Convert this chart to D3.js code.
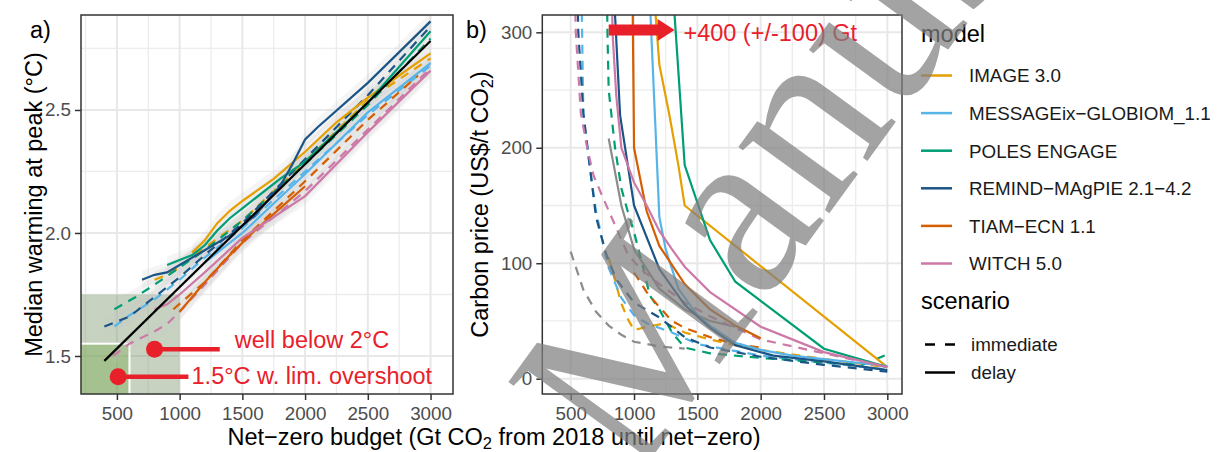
<!DOCTYPE html>
<html><head><meta charset="utf-8">
<script src="https://cdn.jsdelivr.net/npm/d3@7"></script>
<style>body{margin:0;background:#fff}svg{display:block}text{font-family:"Liberation Sans",Arial,sans-serif}</style>
</head><body>
<svg id="c" width="1218" height="452"></svg>
<script>
// ---------- data ----------
const models = ["IMAGE 3.0","MESSAGEix\u2212GLOBIOM_1.1","POLES ENGAGE","REMIND\u2212MAgPIE 2.1\u22124.2","TIAM\u2212ECN 1.1","WITCH 5.0"];
const scenarios = ["immediate","delay"];
const budgetTicks = [500,1000,1500,2000,2500,3000];
const warmTicks = [1.5,2.0,2.5];
const priceTicks = [0,100,200,300];

// panel a: median peak warming vs net-zero budget [budget, warming]
const warmImageDelay = [[1100,1.92],[1200,1.97],[1300,2.04],[1400,2.09],[1500,2.13],[1750,2.22],[2000,2.33],[2250,2.45],[2500,2.55],[2750,2.64],[3000,2.73]];
const warmImageImm = [[800,1.81],[900,1.83],[1000,1.86],[1200,1.94],[1500,2.05],[2000,2.29],[2500,2.54],[3000,2.71]];
const warmMessageDelay = [[1200,1.88],[1500,2.0],[2000,2.24],[2500,2.49],[3000,2.69]];
const warmMessageImm = [[480,1.62],[600,1.665],[800,1.73],[1000,1.81],[1200,1.90],[1500,2.02],[2000,2.25],[2500,2.48],[3000,2.68]];
const warmPolesDelay = [[900,1.87],[1000,1.89],[1100,1.91],[1200,1.95],[1300,2.01],[1400,2.06],[1500,2.10],[1800,2.22],[2000,2.29],[2500,2.53],[3000,2.82]];
const warmPolesImm = [[480,1.69],[650,1.74],[800,1.79],[1000,1.86],[1200,1.93],[1500,2.05],[2000,2.28],[2500,2.52],[3000,2.79]];
const warmRemindDelay = [[700,1.81],[800,1.83],[900,1.84],[1000,1.87],[1200,1.93],[1400,1.99],[1600,2.07],[1800,2.19],[1900,2.28],[2000,2.38],[2100,2.43],[2500,2.61],[3000,2.86]];
const warmRemindImm = [[400,1.62],[600,1.66],[800,1.74],[1000,1.82],[1200,1.91],[1500,2.04],[2000,2.30],[2500,2.56],[3000,2.84]];
const warmTiamDelay = [[1000,1.68],[1200,1.80],[1400,1.91],[1600,2.01],[1800,2.10],[2000,2.19]];
const warmTiamImm = [[950,1.69],[1200,1.80],[1500,1.97],[2000,2.21],[2500,2.46],[2900,2.64]];
const warmWitchDelay = [[800,1.69],[900,1.71],[1000,1.75],[1200,1.84],[1500,1.98],[2000,2.15],[2500,2.41],[3000,2.66]];
const warmWitchImm = [[470,1.50],[600,1.55],[800,1.60],[900,1.63],[1000,1.68],[1200,1.79],[1500,1.96],[2000,2.17],[2500,2.42],[3000,2.67]];
const warmFit = [[400,1.48],[3000,2.78]];

// target ranges in panel a: [budget max, warming max]
const targetWB2 = [1000,1.75];
const target15 = [600,1.55];
const markWB2 = [800,1.527,1320,1440];   // dot budget, warming, line end, label start
const mark15 = [510,1.416,1070,1095];
const labelWB2 = "well below 2\u00b0C";
const label15 = "1.5\u00b0C w. lim. overshoot";

// panel b: carbon price vs net-zero budget [budget, price]
const priceImageDelay = [[1150,360],[1160,330],[1200,272],[1280,228],[1350,185],[1400,150],[3000,10]];
const priceImageImm = [[800,105],[850,85],[900,65],[950,52],[1000,42],[1100,45],[1250,48],[1400,40],[1600,34],[1800,29],[2000,25],[2500,17],[3000,10]];
const priceMessageDelay = [[1120,400],[1130,315],[1200,140],[1250,112],[1350,78],[1500,55],[1600,46],[1800,31],[2000,25],[2250,20],[2500,17],[3000,11]];
const priceMessageImm = [[575,400],[590,300],[600,228],[650,183],[700,145],[750,120],[800,96],[900,70],[1000,55],[1100,48],[1300,40],[1500,30],[2000,20],[2500,14],[3000,8]];
const pricePolesDelay = [[1300,420],[1320,315],[1400,185],[1600,120],[1800,84],[2500,26],[3000,10]];
const pricePolesImm = [[780,400],[790,300],[800,250],[850,200],[900,165],[950,145],[1000,127],[1075,95],[1125,72],[1200,60],[1300,40],[1400,27],[1600,22],[2000,18],[2500,14],[2800,12],[3000,21]];
const priceRemindDelay = [[840,400],[850,315],[890,228],[1000,150],[1200,95],[1400,64],[1600,44],[1800,29],[2100,20],[2500,15],[3000,7.5]];
const priceRemindImm = [[540,400],[560,300],[600,230],[650,185],[700,140],[780,108],[860,86],[1000,66],[1200,53],[1400,36],[1600,27],[2000,19],[2500,12],[3000,6]];
const priceTiamDelay = [[975,400],[990,315],[1000,200],[1100,145],[1200,115],[1400,82],[1600,60],[1800,46],[2000,35]];
const priceTiamImm = [[1000,92],[1100,75],[1200,62],[1300,50],[1400,44],[1600,36],[1800,30],[2000,27]];
const priceWitchDelay = [[820,400],[830,300],[860,245],[900,200],[1000,170],[1100,150],[1200,128],[1300,112],[1400,97],[1600,75],[2000,45],[2500,23],[3000,10]];
const priceWitchImm = [[520,400],[540,300],[580,230],[630,200],[680,176],[750,158],[850,133],[950,108],[1050,95],[1200,82],[1400,66],[1600,54],[2000,34],[2500,22],[3000,10]];
const priceGrayDelay = [[800,208],[900,150],[1000,112],[1200,78],[1400,60],[1600,50],[1800,45]];
const priceGrayImm = [[500,110],[600,77],[700,58],[800,46],[900,38],[1000,32],[1200,28],[1400,26]];
const shiftArrow = [800,1320,302];  // from budget, to budget, at price
const shiftLabel = "+400 (+/-100) Gt";
const shiftLabelAt = [1390,300];
const watermark = "Manuscript";

// ---------- styles ----------
const colors = ["#E69F00","#56B4E9","#009E73","#1B5586","#D55E00","#CC79A7"];
const red = "#E8202A";
const dashPat = "9,7";

const warmSeries = [
  [warmImageImm,0,"immediate"],[warmMessageImm,1,"immediate"],[warmPolesImm,2,"immediate"],[warmRemindImm,3,"immediate"],[warmTiamImm,4,"immediate"],[warmWitchImm,5,"immediate"],
  [warmImageDelay,0,"delay"],[warmMessageDelay,1,"delay"],[warmPolesDelay,2,"delay"],[warmRemindDelay,3,"delay"],[warmTiamDelay,4,"delay"],[warmWitchDelay,5,"delay"]];
const priceSeries = [
  [priceGrayImm,-1,"immediate"],[priceGrayDelay,-1,"delay"],
  [priceImageImm,0,"immediate"],[priceMessageImm,1,"immediate"],[pricePolesImm,2,"immediate"],[priceRemindImm,3,"immediate"],[priceTiamImm,4,"immediate"],[priceWitchImm,5,"immediate"],
  [priceImageDelay,0,"delay"],[priceMessageDelay,1,"delay"],[pricePolesDelay,2,"delay"],[priceRemindDelay,3,"delay"],[priceTiamDelay,4,"delay"],[priceWitchDelay,5,"delay"]];

const svg = d3.select("#c");
const A = {l:81,r:453,t:15,b:394};
const B = {l:542.3,r:902,t:15,b:394};

const xA = d3.scaleLinear().domain([213.8,3179]).range([A.l,A.r]);
const yA = d3.scaleLinear().domain([1.3455,2.886]).range([A.b,A.t]);
const xB = d3.scaleLinear().domain([275.7,3116]).range([B.l,B.r]);
const yB = d3.scaleLinear().domain([-13.25,315]).range([B.b,B.t]);

const defs = svg.append("defs");
defs.append("clipPath").attr("id","clipA").append("rect").attr("x",A.l).attr("y",A.t).attr("width",A.r-A.l).attr("height",A.b-A.t);
defs.append("clipPath").attr("id","clipB").append("rect").attr("x",B.l).attr("y",B.t).attr("width",B.r-B.l).attr("height",B.b-B.t);
defs.append("clipPath").attr("id","clipAll").append("rect").attr("x",0).attr("y",0).attr("width",1218).attr("height",452);

function grid(P, x, y, xMaj, yMaj) {
  const g = svg.append("g");
  const xMin = xMaj.slice(0,-1).map((v,i)=>(v+xMaj[i+1])/2).concat([xMaj[0]-(xMaj[1]-xMaj[0])/2, xMaj[xMaj.length-1]+(xMaj[1]-xMaj[0])/2]).filter(v=>x(v)>P.l&&x(v)<P.r);
  const yMin = yMaj.slice(0,-1).map((v,i)=>(v+yMaj[i+1])/2).concat([yMaj[0]-(yMaj[1]-yMaj[0])/2, yMaj[yMaj.length-1]+(yMaj[1]-yMaj[0])/2]).filter(v=>y(v)>P.t&&y(v)<P.b);
  g.selectAll(".vmin").data(xMin).join("line").attr("x1",d=>x(d)).attr("x2",d=>x(d)).attr("y1",P.t).attr("y2",P.b).attr("stroke","#ececec").attr("stroke-width",1.3);
  g.selectAll(".hmin").data(yMin).join("line").attr("y1",d=>y(d)).attr("y2",d=>y(d)).attr("x1",P.l).attr("x2",P.r).attr("stroke","#ececec").attr("stroke-width",1.3);
  g.selectAll(".vmaj").data(xMaj).join("line").attr("x1",d=>x(d)).attr("x2",d=>x(d)).attr("y1",P.t).attr("y2",P.b).attr("stroke","#e8e8e8").attr("stroke-width",2);
  g.selectAll(".hmaj").data(yMaj).join("line").attr("y1",d=>y(d)).attr("y2",d=>y(d)).attr("x1",P.l).attr("x2",P.r).attr("stroke","#e8e8e8").attr("stroke-width",2);
}
function axes(P, x, y, xt, yt, yfmt) {
  const gx = svg.append("g").attr("transform",`translate(0,${P.b})`)
    .call(d3.axisBottom(x).tickValues(xt).tickSize(6).tickPadding(7).tickFormat(d3.format("d")));
  const gy = svg.append("g").attr("transform",`translate(${P.l},0)`)
    .call(d3.axisLeft(y).tickValues(yt).tickSize(6).tickPadding(4).tickFormat(yfmt));
  [gx,gy].forEach(g=>{
    g.select(".domain").remove();
    g.selectAll(".tick line").attr("stroke","#333").attr("stroke-width",1.5);
    g.selectAll(".tick text").attr("fill","#4d4d4d").style("font-size","18.8px").style("font-family","Liberation Sans, Arial, sans-serif");
  });
  svg.append("rect").attr("x",P.l).attr("y",P.t).attr("width",P.r-P.l).attr("height",P.b-P.t).attr("fill","none").attr("stroke","#333").attr("stroke-width",1.5);
}

// ---------- panel a ----------
grid(A, xA, yA, budgetTicks, warmTicks);
const pa = svg.append("g").attr("clip-path","url(#clipA)");
pa.append("rect").attr("x",A.l-5).attr("y",yA(targetWB2[1])).attr("width",xA(targetWB2[0])-A.l+5).attr("height",A.b-yA(targetWB2[1])+5)
  .attr("fill","#6d8c5a").attr("fill-opacity",0.38);
pa.append("rect").attr("x",A.l-5).attr("y",yA(target15[1])).attr("width",xA(target15[0])-A.l+5).attr("height",A.b-yA(target15[1])+5)
  .attr("fill","#7dab55").attr("fill-opacity",0.45).attr("stroke","#fff").attr("stroke-width",2);

const areaA = d3.area().x(d=>xA(d[0])).y0(d=>yA(d[1]-0.035)).y1(d=>yA(d[1]+0.035));
pa.selectAll(".rib").data(warmSeries).join("path").attr("d",d=>areaA(d[0])).attr("fill","#c8c8c8").attr("fill-opacity",0.18);
const lineA = d3.line().x(d=>xA(d[0])).y(d=>yA(d[1]));
pa.selectAll(".wl").data(warmSeries).join("path").attr("d",d=>lineA(d[0])).attr("fill","none")
  .attr("stroke",d=>colors[d[1]]).attr("stroke-width",2.2).attr("stroke-dasharray",d=>d[2]==="immediate"?dashPat:null);
pa.append("path").attr("d",lineA(warmFit)).attr("fill","none").attr("stroke","#000").attr("stroke-width",2.2);

// red markers
[[markWB2,labelWB2,-1],[mark15,label15,7]].forEach(([m,lab,dy])=>{
  pa.append("line").attr("x1",xA(m[0])).attr("x2",xA(m[2])).attr("y1",yA(m[1])).attr("y2",yA(m[1])).attr("stroke",red).attr("stroke-width",4.5);
  pa.append("circle").attr("cx",xA(m[0])).attr("cy",yA(m[1])).attr("r",8.5).attr("fill",red);
  pa.append("text").attr("x",xA(m[3])).attr("y",yA(m[1])+dy).attr("fill",red).style("font-size","23.5px").text(lab);
});
axes(A, xA, yA, budgetTicks, warmTicks, d3.format(".1f"));

// ---------- panel b ----------
grid(B, xB, yB, budgetTicks, priceTicks);
const pb = svg.append("g").attr("clip-path","url(#clipB)");
const lineB = d3.line().x(d=>xB(d[0])).y(d=>yB(d[1]));
pb.selectAll(".pl").data(priceSeries).join("path").attr("d",d=>lineB(d[0])).attr("fill","none")
  .attr("stroke",d=>d[1]<0?"#8c8c8c":colors[d[1]]).attr("stroke-width",2.2).attr("stroke-dasharray",d=>d[2]==="immediate"?dashPat:null);
// arrow
{
  const x0 = xB(shiftArrow[0]), x1 = xB(shiftArrow[1]), yy = yB(shiftArrow[2]);
  pb.append("line").attr("x1",x0).attr("x2",x1-14).attr("y1",yy).attr("y2",yy).attr("stroke",red).attr("stroke-width",11);
  pb.append("path").attr("d",`M${x1-17},${yy-11}L${x1},${yy}L${x1-17},${yy+11}Z`).attr("fill",red);
  svg.append("text").attr("x",xB(shiftLabelAt[0])).attr("y",yB(shiftLabelAt[1])+8.5).attr("fill",red).style("font-size","23.5px").text(shiftLabel);
}
axes(B, xB, yB, budgetTicks, priceTicks, d3.format("d"));

// ---------- titles ----------
svg.append("text").attr("x",30).attr("y",38).style("font-size","23.5px").attr("fill","#000").text("a)");
svg.append("text").attr("x",466).attr("y",38).style("font-size","23.5px").attr("fill","#000").text("b)");
svg.append("text").attr("transform","translate(42,204.5) rotate(-90)").attr("text-anchor","middle").style("font-size","23.5px").text("Median warming at peak (\u00b0C)");
{
  const t = svg.append("text").attr("transform","translate(488,204.5) rotate(-90)").attr("text-anchor","middle").style("font-size","23.5px");
  t.append("tspan").text("Carbon price (US$/t CO");
  t.append("tspan").attr("dy",5).style("font-size","16.5px").text("2");
  t.append("tspan").attr("dy",-5).text(")");
}
{
  const t = svg.append("text").attr("x",494).attr("y",444.5).attr("text-anchor","middle").style("font-size","23.5px");
  t.append("tspan").text("Net\u2212zero budget (Gt CO");
  t.append("tspan").attr("dy",4).style("font-size","16.5px").text("2");
  t.append("tspan").attr("dy",-4).text(" from 2018 until net\u2212zero)");
}

// ---------- legend ----------
const lg = svg.append("g");
lg.append("text").attr("x",921).attr("y",42).style("font-size","23.5px").text("model");
models.forEach((m,i)=>{
  const cy = 75.5 + i*37.6;
  lg.append("line").attr("x1",921).attr("x2",952).attr("y1",cy).attr("y2",cy).attr("stroke",colors[i]).attr("stroke-width",2.5);
  lg.append("text").attr("x",969).attr("y",cy+6.8).style("font-size","18.8px").attr("fill","#1a1a1a").text(m);
});
lg.append("text").attr("x",921).attr("y",309).style("font-size","23.5px").text("scenario");
scenarios.forEach((s,i)=>{
  const cy = 344.5 + i*28;
  lg.append("line").attr("x1",925).attr("x2",955).attr("y1",cy).attr("y2",cy).attr("stroke","#000").attr("stroke-width",2.5).attr("stroke-dasharray",s==="immediate"?"10,10":null);
  lg.append("text").attr("x",971).attr("y",cy+6.8).style("font-size","18.8px").attr("fill","#1a1a1a").text(s);
});

// ---------- watermark ----------
svg.append("g").attr("clip-path","url(#clipAll)").append("text")
  .attr("transform","translate(634,482) rotate(-54)").style("font-family","Liberation Serif, serif").style("font-size","245px")
  .attr("fill","#808080").attr("fill-opacity",0.72).text(watermark);
</script>
</body></html>
